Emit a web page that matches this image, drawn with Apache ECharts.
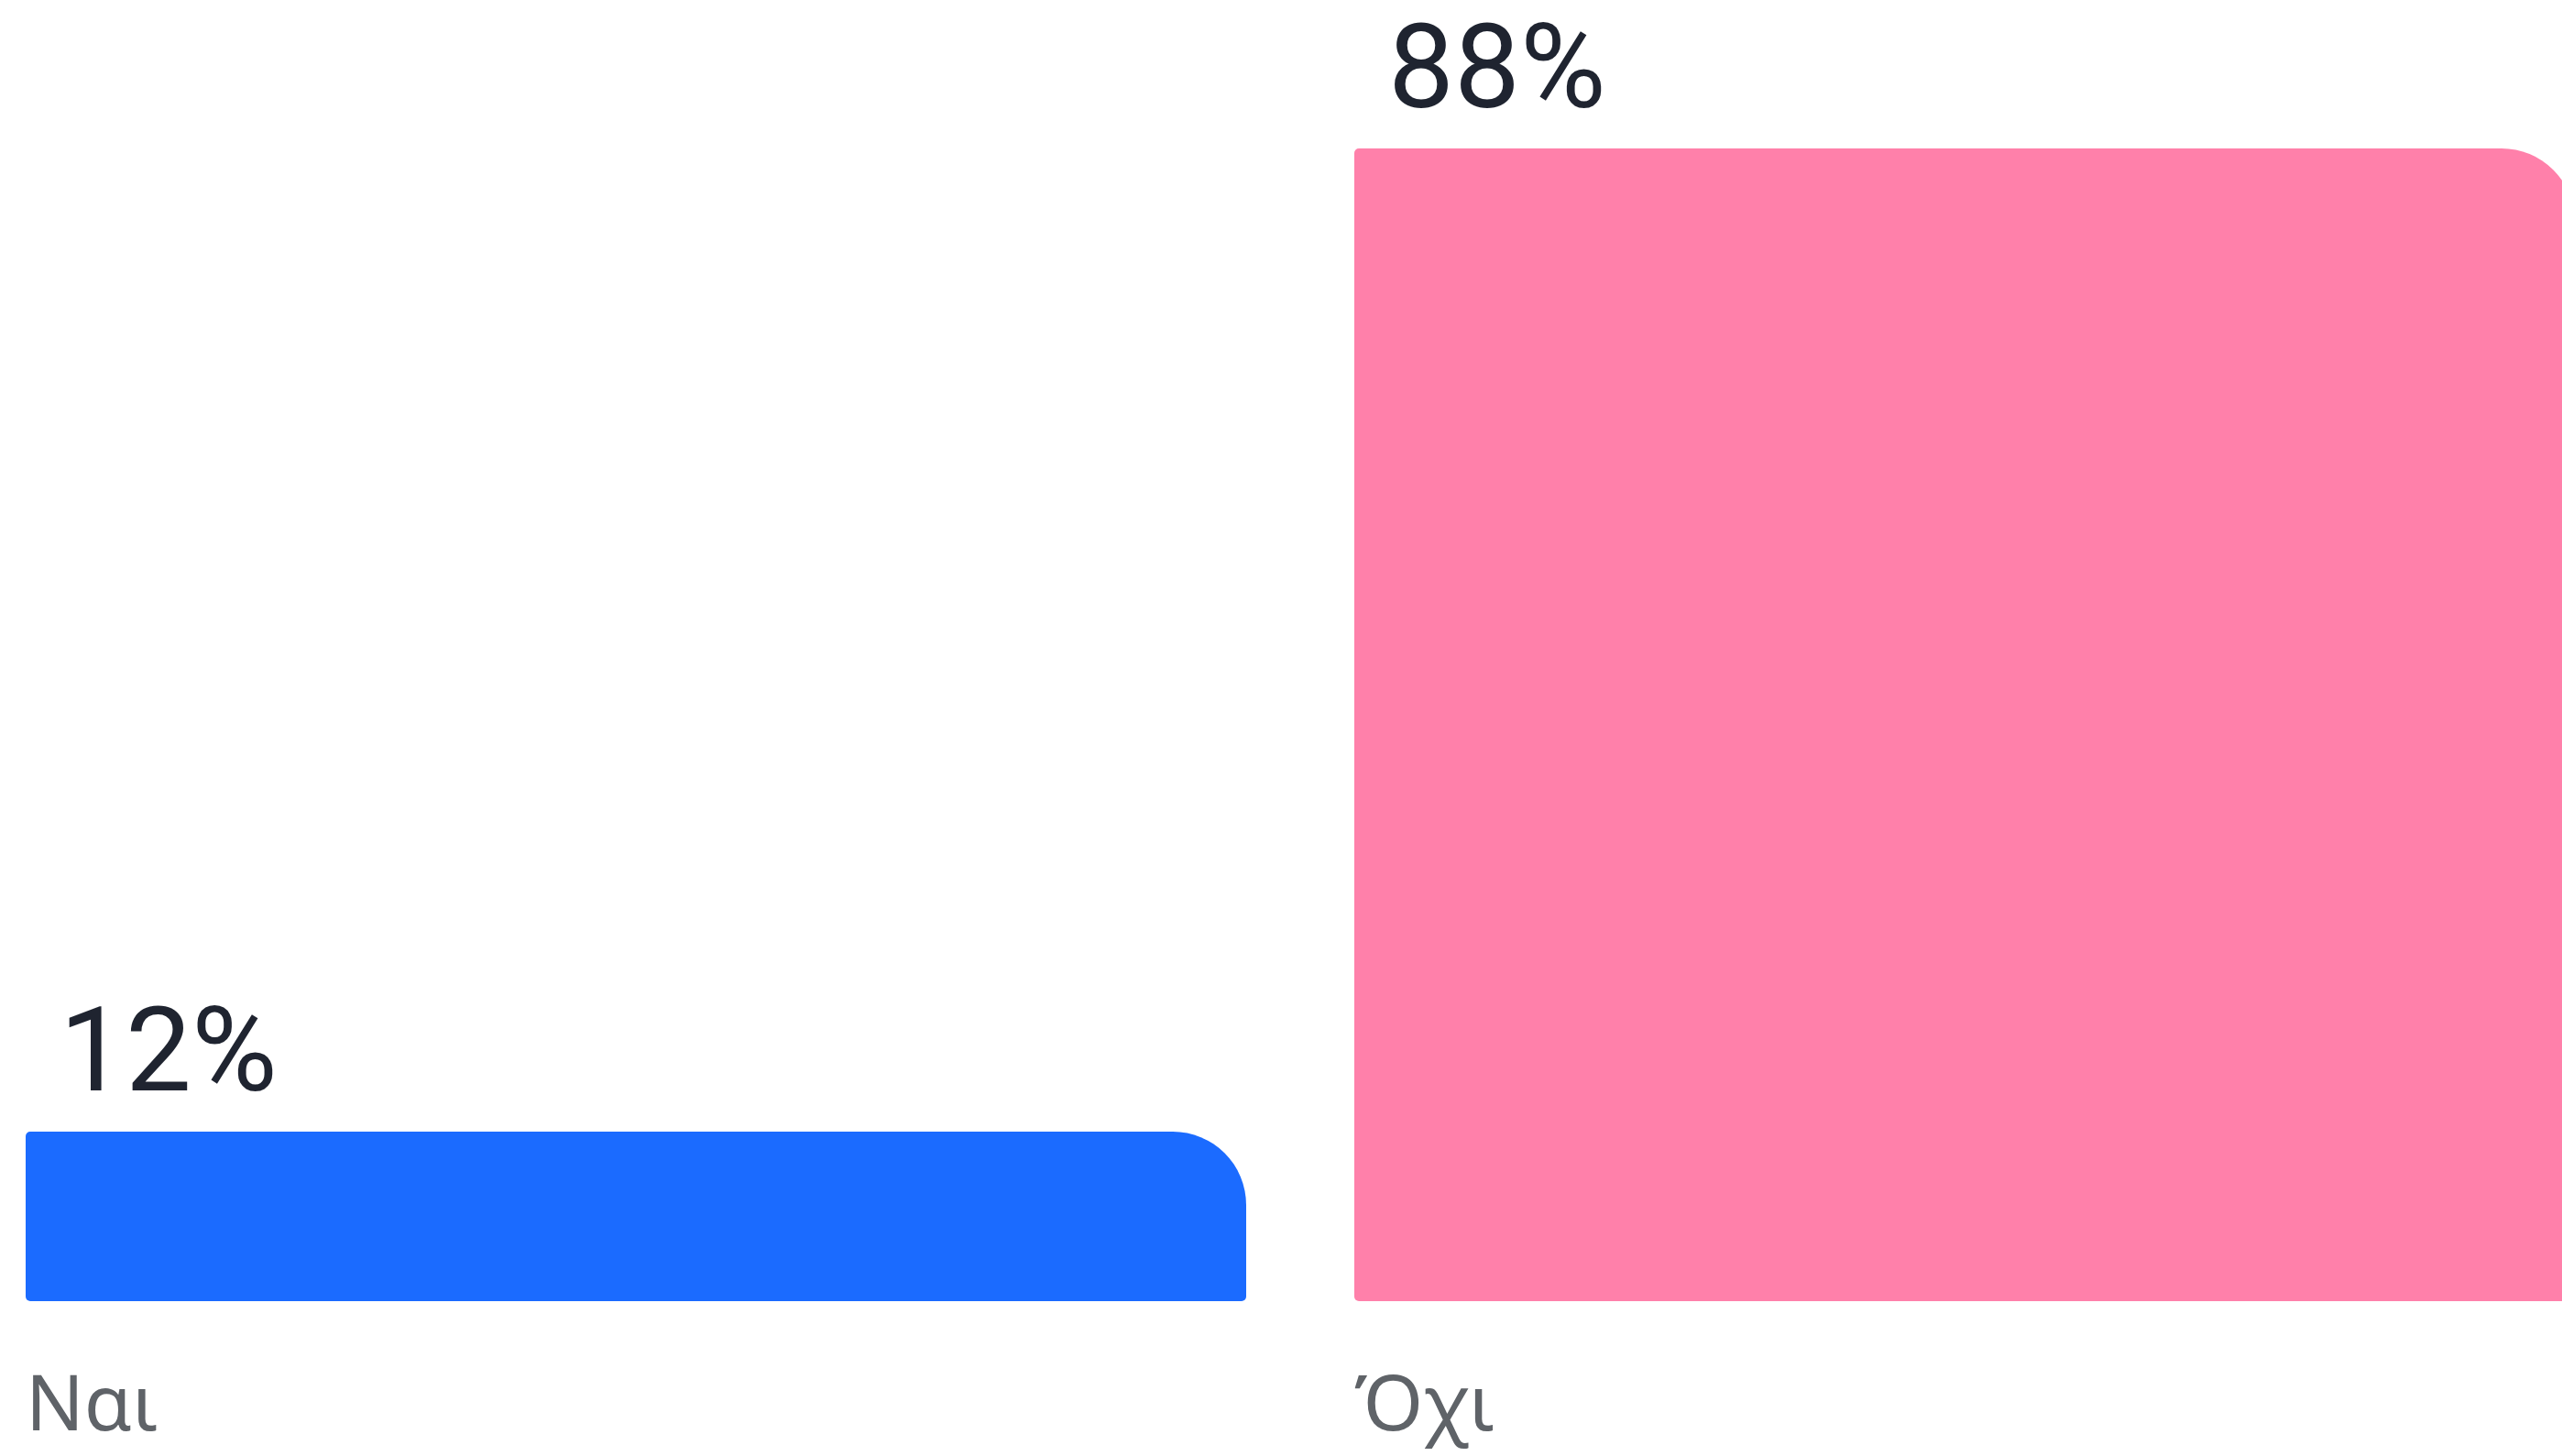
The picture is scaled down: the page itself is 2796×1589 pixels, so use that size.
<!DOCTYPE html>
<html>
<head>
<meta charset="utf-8">
<style>
  html, body { margin: 0; padding: 0; background: #ffffff; }
  #chart { width: 2796px; height: 1589px; }
</style>
<script src="https://cdn.jsdelivr.net/npm/echarts@6/dist/echarts.min.js"></script>
</head>
<body>
<div id="chart"></div>
<script>
const categories = ['Ναι', 'Όχι'];
const values = [12, 88];
const barColors = ['#1b6bff', '#ff80aa'];

const chart = echarts.init(document.getElementById('chart'), null, { renderer: 'canvas' });

chart.setOption({
  backgroundColor: '#ffffff',
  animation: false,
  grid: {
    left: -31, width: 2900, top: 162, bottom: 169,
    containLabel: false,
    outerBoundsMode: 'none'
  },
  xAxis: {
    type: 'category',
    data: categories,
    axisLine: { show: false },
    axisTick: { show: false },
    splitLine: { show: false },
    axisLabel: {
      interval: 0,
      margin: 75,
      width: 1332,
      overflow: 'none',
      align: 'center',
      hideOverlap: false,
      formatter: v => '{c|' + v + '}',
      rich: {
        c: {
          align: 'left',
          fontFamily: '"Noto Sans", "Open Sans", sans-serif',
          fontSize: 84,
          lineHeight: 84,
          color: '#5f6368'
        }
      }
    }
  },
  yAxis: {
    type: 'value',
    min: -1.1,
    max: 88,
    startValue: -1.1,
    show: false,
    splitLine: { show: false }
  },
  series: [{
    type: 'bar',
    barWidth: 1332,
    data: values.map((v, i) => ({ value: v, itemStyle: { color: barColors[i] } })),
    itemStyle: { borderRadius: [5, 80, 5, 5] },
    label: {
      show: true,
      position: [37, -13],
      align: 'left',
      verticalAlign: 'bottom',
      formatter: '{c}%',
      fontFamily: 'Roboto, "Noto Sans", sans-serif',
      fontSize: 128,
      lineHeight: 128,
      color: '#1f2430'
    }
  }]
});
</script>
</body>
</html>
